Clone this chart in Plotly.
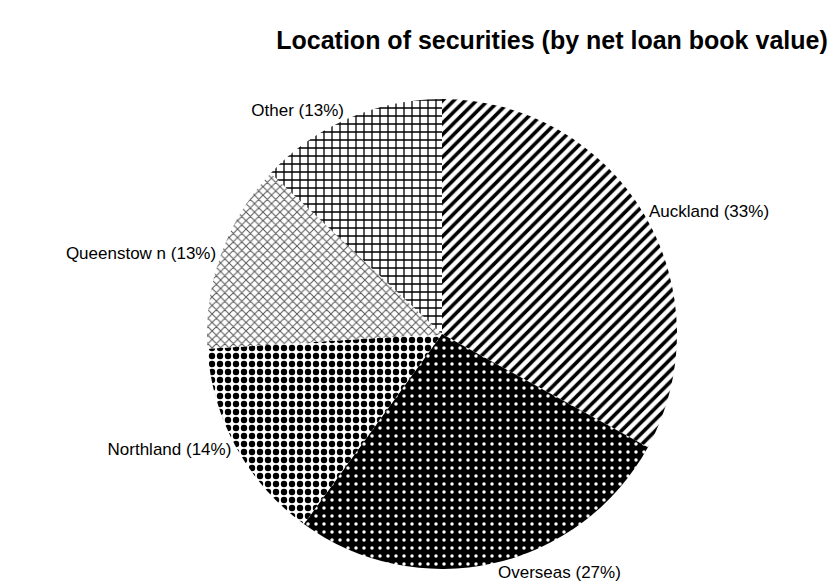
import plotly.graph_objects as go

labels = ["Auckland", "Overseas", "Northland", "Queenstow n", "Other"]
values = [33, 27, 14, 13, 13]
shapes = ["/", ".", ".", "x", "+"]
fgcolors = ["black", "white", "black", "#555555", "black"]
bgcolors = ["white", "black", "white", "white", "white"]
sizes = [8, 8, 8, 6, 8]
solidities = [0.45, 0.15, 0.5, 0.3, 0.3]

texts = [f"{l} ({v}%)" for l, v in zip(labels, values)]

fig = go.Figure(go.Pie(
    labels=labels,
    values=values,
    text=texts,
    textinfo="text",
    textposition="outside",
    sort=False,
    direction="clockwise",
    rotation=0,
    hole=0,
    showlegend=False,
    outsidetextfont=dict(family="Liberation Sans, Arial, sans-serif", size=17, color="black"),
    marker=dict(
        colors=bgcolors,
        line=dict(width=0),
        pattern=dict(shape=shapes, fgcolor=fgcolors, bgcolor=bgcolors,
                     size=sizes, solidity=solidities, fillmode="replace"),
    ),
    domain=dict(x=[207/829, 677/829], y=[18/587, 488/587]),
))

fig.update_layout(
    width=829, height=587,
    margin=dict(l=0, r=0, t=0, b=0),
    paper_bgcolor="white",
    plot_bgcolor="white",
    title=dict(text="<b>Location of securities (by net loan book value)</b>",
               x=552/829, xanchor="center", y=1-40/587, yanchor="middle",
               font=dict(family="Liberation Sans, Arial, sans-serif", size=25, color="black")),
)

fig.write_html("out.html")
